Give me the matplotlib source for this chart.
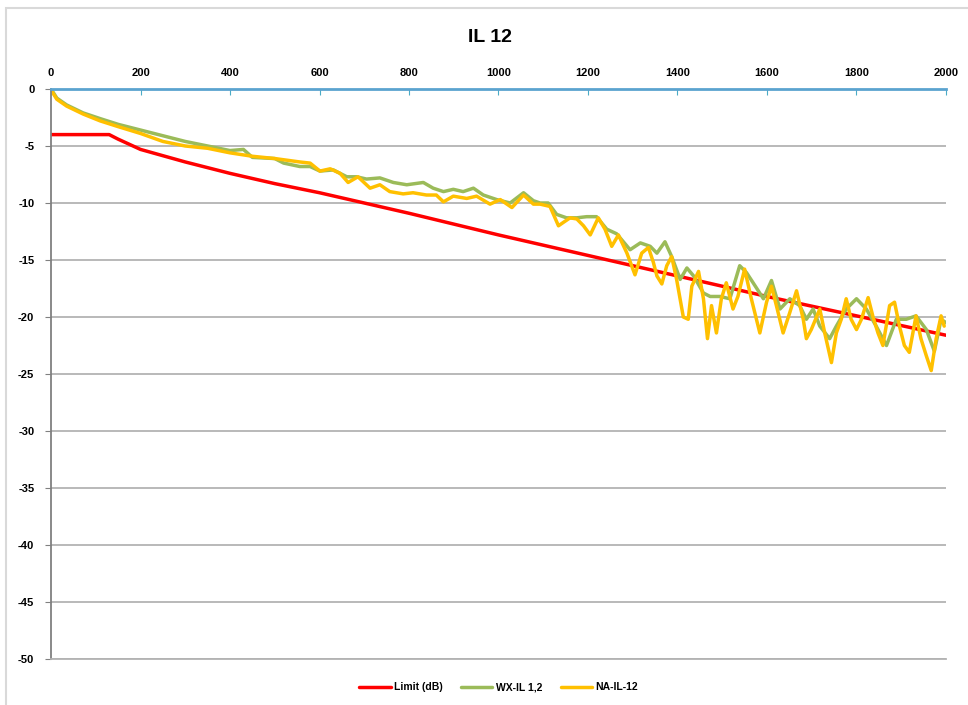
"""IL 12 insertion loss vs limit"""

import matplotlib.pyplot as plt
from matplotlib.patches import Rectangle

plt.rcParams['font.family'] = ['Liberation Sans', 'DejaVu Sans']
plt.rcParams['axes.unicode_minus'] = False

# Limit line (dB)
limit_freq = [0, 130, 150, 175, 200, 250, 300, 400, 500, 600, 800, 1000,
              1200, 1400, 1600, 1800, 2000]
limit_db = [-4.0, -4.0, -4.4, -4.85, -5.3, -5.85, -6.4, -7.4, -8.3, -9.1,
            -10.9, -12.8, -14.6, -16.4, -18.2, -19.9, -21.6]

# WX-IL 1,2 measurement
wx_freq = [0, 5, 13, 35, 72, 110, 150, 200, 250, 300, 350, 400, 430, 450, 500,
           520, 556, 579, 601, 631, 661, 683, 705, 735, 765, 795, 832, 854, 877,
           899, 921, 944, 966, 996, 1026, 1056, 1078, 1093, 1111, 1130, 1152,
           1175, 1197, 1219, 1242, 1264, 1294, 1317, 1339, 1354, 1372, 1387,
           1406, 1421, 1436, 1458, 1473, 1495, 1517, 1539, 1554, 1569, 1592,
           1610, 1629, 1651, 1673, 1688, 1703, 1718, 1740, 1755, 1777, 1800,
           1822, 1844, 1867, 1889, 1911, 1933, 1956, 1974, 1989, 2000]
wx_il = [-0.1, -0.3, -0.8, -1.4, -2.1, -2.6, -3.1, -3.6, -4.1, -4.6, -5.0, -5.4,
         -5.3, -6.0, -6.1, -6.5, -6.8, -6.8, -7.2, -7.1, -7.7, -7.7, -7.9, -7.8,
         -8.2, -8.4, -8.2, -8.7, -9.0, -8.8, -9.0, -8.7, -9.3, -9.7, -10.0, -9.1,
         -9.8, -10.0, -10.0, -11.0, -11.3, -11.3, -11.2, -11.2, -12.3, -12.7,
         -14.1, -13.5, -13.8, -14.4, -13.4, -14.7, -16.7, -15.7, -16.4, -17.9,
         -18.2, -18.2, -18.4, -15.5, -16.1, -17.0, -18.4, -16.8, -19.3, -18.4,
         -19.0, -20.2, -19.3, -20.8, -21.9, -20.8, -19.3, -18.4, -19.3, -20.8,
         -22.5, -20.2, -20.2, -19.9, -21.1, -23.0, -20.2, -20.5]

# NA-IL-12 measurement
na_freq = [0, 5, 13, 35, 72, 110, 150, 200, 250, 300, 350, 400, 450, 500, 556,
           579, 601, 624, 646, 664, 686, 713, 735, 757, 787, 809, 839, 861, 877,
           899, 929, 951, 981, 1004, 1030, 1056, 1078, 1093, 1115, 1134, 1145,
           1160, 1175, 1190, 1205, 1223, 1238, 1253, 1268, 1287, 1305, 1320,
           1335, 1346, 1354, 1365, 1376, 1387, 1398, 1413, 1424, 1432, 1447,
           1458, 1467, 1476, 1487, 1498, 1509, 1524, 1535, 1550, 1565, 1584,
           1599, 1610, 1621, 1636, 1651, 1666, 1681, 1688, 1699, 1718, 1729,
           1744, 1755, 1766, 1777, 1788, 1800, 1811, 1826, 1837, 1848, 1859,
           1874, 1885, 1896, 1907, 1918, 1933, 1944, 1956, 1967, 1978, 1989, 1996]
na_il = [-0.1, -0.4, -0.9, -1.5, -2.2, -2.8, -3.3, -3.9, -4.6, -5.0, -5.2, -5.6,
         -5.9, -6.1, -6.4, -6.5, -7.2, -7.0, -7.4, -8.2, -7.7, -8.7, -8.4, -9.0,
         -9.2, -9.1, -9.3, -9.3, -9.9, -9.4, -9.6, -9.4, -10.1, -9.7, -10.4, -9.3,
         -10.1, -10.1, -10.3, -12.0, -11.7, -11.3, -11.4, -12.0, -12.8, -11.3,
         -12.3, -13.8, -12.8, -14.4, -16.3, -14.4, -13.9, -15.2, -16.4, -17.1,
         -15.5, -14.7, -16.7, -20.0, -20.2, -17.3, -16.0, -18.4, -21.9, -19.0,
         -21.4, -18.4, -17.0, -19.3, -18.2, -15.8, -18.4, -21.4, -18.7, -17.3,
         -19.0, -21.4, -19.6, -17.7, -20.2, -21.9, -21.1, -19.3, -21.4, -24.0,
         -21.4, -20.2, -18.4, -20.2, -21.1, -20.2, -18.3, -20.0, -21.4, -22.5,
         -19.0, -18.7, -20.8, -22.5, -23.1, -19.9, -21.9, -23.4, -24.7, -21.9,
         -19.9, -20.8]

x_ticks = list(range(0, 2001, 200))
y_ticks = list(range(0, -51, -5))

fig = plt.figure(figsize=(9.68, 7.05), dpi=100)
ax = fig.add_axes([51 / 968, 1 - 659 / 705, 895 / 968, 570 / 705])

line_kw = dict(lw=2.5, solid_joinstyle='round', solid_capstyle='round')
ax.plot(limit_freq, limit_db, color='#FF0000', label='Limit (dB)', **line_kw)
ax.plot(wx_freq, wx_il, color='#9BBB59', label='WX-IL 1,2', **line_kw)
ax.plot(na_freq, na_il, color='#FFC000', label='NA-IL-12', **line_kw)

ax.set_xlim(0, 2000)
ax.set_ylim(-50, 0)
ax.set_xticks(x_ticks)
ax.set_yticks(y_ticks)
ax.xaxis.tick_top()
ax.tick_params(axis='x', direction='in', length=4, color='#4BACC6', pad=8,
               labelsize=8)
ax.tick_params(axis='y', direction='out', length=4, color='#808080', pad=8,
               labelsize=8)
for lbl in ax.get_xticklabels() + ax.get_yticklabels():
    lbl.set_fontweight('bold')

# horizontal grid only, Excel style
ax.grid(axis='y', color='#B3B3B3', lw=1.3)
ax.set_axisbelow(True)
ax.spines['top'].set_color('#5BA3CF')
ax.spines['top'].set_linewidth(2)
ax.spines['left'].set_color('#808080')
ax.spines['left'].set_linewidth(1.3)
ax.spines['right'].set_visible(False)
ax.spines['bottom'].set_color('#B3B3B3')
ax.spines['bottom'].set_linewidth(1.3)

fig.text(490 / 968, 1 - 37 / 705, 'IL 12', ha='center', va='center',
         fontsize=14, fontweight='bold')

ax.legend(loc='center', bbox_to_anchor=(0.5, -0.05), ncol=3, frameon=False,
          handlelength=3.0, handletextpad=0.3, columnspacing=1.8,
          prop={'weight': 'bold', 'size': 7.5})

# outer chart border
fig.patches.append(Rectangle((6 / 968, -0.02), 1.0, 1 - 8 / 705 + 0.02,
                             transform=fig.transFigure, fill=False,
                             edgecolor='#D9D9D9', lw=1.5))

plt.savefig('out.png', dpi=100)
